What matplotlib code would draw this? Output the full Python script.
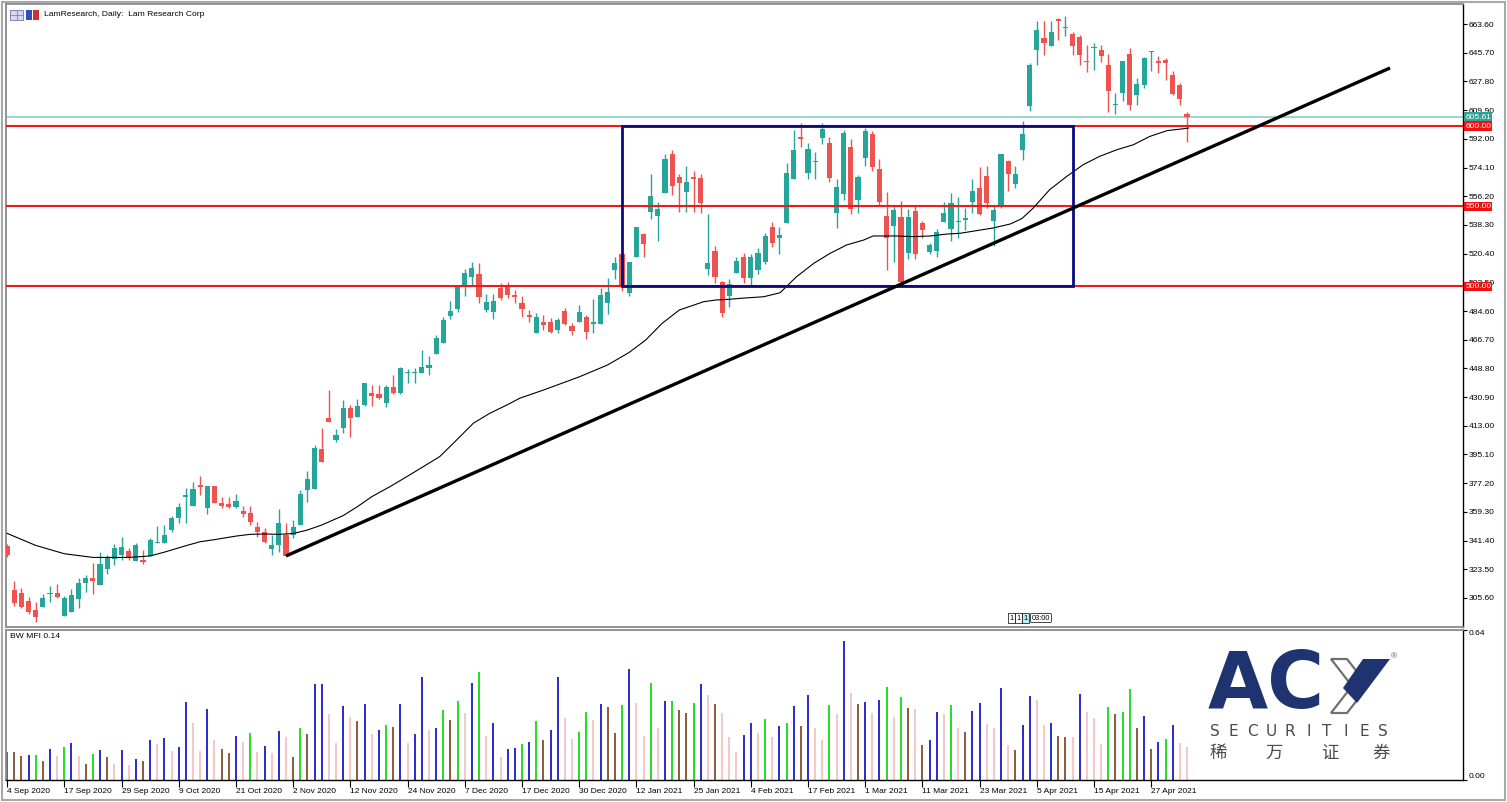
import matplotlib
matplotlib.use("Agg")
import matplotlib.pyplot as plt
import matplotlib.transforms as mtransforms
from matplotlib.patches import Rectangle, Polygon

plt.rcParams['font.family'] = ['Liberation Sans', 'DejaVu Sans']

# ---------------- data (daily LRCX, bar index 0 = 4 Sep 2020) ----------------
opens = [338.0, 310.6, 309.0, 304.0, 298.1, 299.8, 308.0, 309.0, 294.6, 297.1,
         304.8, 314.8, 317.9, 313.7, 323.5, 329.7, 332.4, 335.1, 328.9, 329.3,
         331.8, 339.7, 340.1, 348.0, 355.7, 368.8, 363.0, 375.5, 361.5, 375.5,
         364.6, 364.2, 362.6, 360.1, 358.4, 350.1, 347.0, 336.1, 338.6, 344.9,
         344.9, 351.1, 372.9, 373.3, 398.4, 417.6, 404.2, 411.8, 424.0, 418.7,
         426.0, 433.6, 432.9, 427.4, 437.4, 433.6, 445.8, 445.8, 446.2, 448.9,
         457.8, 464.9, 481.7, 485.6, 499.8, 506.0, 507.7, 485.2, 484.2, 498.8,
         500.8, 494.6, 489.8, 482.1, 470.7, 478.0, 478.0, 472.8, 484.8, 475.4,
         478.0, 480.7, 476.5, 476.5, 489.8, 510.1, 520.4, 495.6, 518.5, 532.4,
         546.5, 543.8, 558.4, 582.5, 568.0, 559.0, 568.0, 567.3, 510.6, 522.2,
         502.9, 493.8, 508.5, 518.5, 505.0, 510.2, 515.4, 537.2, 530.0, 539.7,
         566.7, 593.0, 570.5, 577.4, 592.4, 589.2, 545.5, 557.6, 586.7, 553.8,
         579.8, 595.0, 573.0, 543.9, 537.6, 543.4, 521.0, 547.2, 539.7, 521.6,
         522.2, 540.3, 535.6, 540.0, 541.6, 552.6, 561.3, 568.6, 540.9, 549.3,
         578.4, 563.8, 585.2, 612.2, 647.6, 654.9, 649.7, 666.9, 661.1, 657.4,
         655.3, 640.3, 648.6, 647.6, 638.2, 612.9, 620.6, 644.9, 619.1, 625.4,
         645.9, 640.7, 640.9, 632.0, 625.8, 607.5]
highs = [339.5, 316.2, 311.9, 306.4, 303.3, 307.9, 313.0, 314.4, 306.8, 311.2,
         317.9, 319.9, 327.3, 334.4, 332.7, 339.0, 343.5, 337.0, 340.0, 335.8,
         343.0, 350.5, 350.9, 357.0, 365.0, 373.9, 378.1, 381.7, 375.5, 375.5,
         368.6, 368.6, 370.4, 363.0, 363.0, 353.2, 349.1, 344.9, 361.1, 352.2,
         354.2, 373.1, 385.1, 401.0, 411.8, 435.3, 410.8, 428.8, 426.1, 429.7,
         439.5, 438.2, 438.2, 438.2, 444.7, 449.5, 448.4, 449.0, 460.0, 456.4,
         469.6, 481.1, 491.1, 499.8, 510.7, 515.4, 514.7, 495.5, 495.5, 501.9,
         502.9, 497.7, 494.0, 485.2, 483.6, 482.1, 480.0, 480.0, 486.2, 477.0,
         488.3, 482.1, 492.1, 498.8, 505.0, 518.5, 520.4, 515.4, 537.2, 533.5,
         570.2, 552.7, 582.6, 585.0, 570.2, 574.8, 571.8, 570.0, 545.1, 525.0,
         503.5, 504.6, 518.0, 520.6, 520.0, 523.7, 533.1, 540.4, 537.0, 576.8,
         597.5, 602.0, 589.2, 583.6, 601.7, 593.0, 566.9, 597.5, 592.0, 569.5,
         598.7, 597.0, 579.3, 559.0, 550.0, 553.4, 548.0, 551.0, 540.5, 527.0,
         536.0, 552.7, 558.4, 555.5, 548.8, 567.1, 574.2, 574.8, 550.9, 582.5,
         579.0, 574.8, 602.9, 639.3, 665.3, 665.7, 665.3, 667.3, 668.4, 658.6,
         657.0, 650.7, 651.8, 650.7, 644.9, 620.6, 640.3, 648.6, 629.9, 642.8,
         647.0, 643.4, 642.4, 634.5, 626.8, 608.7]
lows = [331.0, 300.6, 299.4, 295.6, 290.8, 299.8, 303.3, 305.4, 294.6, 297.1,
        299.6, 309.5, 308.3, 313.7, 320.7, 325.9, 329.0, 329.5, 328.9, 326.9,
        331.8, 339.7, 340.1, 346.5, 352.2, 352.2, 363.0, 369.8, 358.2, 364.6,
        362.0, 361.5, 361.5, 356.3, 351.1, 343.5, 339.7, 332.4, 334.3, 331.8,
        343.0, 351.1, 365.7, 373.3, 390.2, 415.6, 403.0, 408.7, 406.0, 418.7,
        425.5, 425.1, 429.5, 424.5, 432.9, 432.9, 439.9, 439.9, 446.2, 444.9,
        457.8, 464.9, 479.5, 484.2, 494.0, 501.0, 489.8, 484.2, 479.6, 491.6,
        493.0, 489.4, 481.0, 478.0, 470.7, 473.0, 471.0, 471.0, 476.0, 469.6,
        478.0, 467.0, 470.7, 476.5, 482.7, 504.4, 497.0, 494.0, 518.5, 518.3,
        541.8, 528.0, 558.4, 557.0, 546.5, 546.5, 546.5, 546.0, 507.0, 501.8,
        480.7, 487.0, 508.0, 501.9, 501.0, 507.5, 514.0, 524.6, 520.0, 539.7,
        566.7, 587.1, 567.0, 567.0, 589.0, 565.0, 536.2, 553.8, 545.0, 545.5,
        575.0, 572.0, 550.0, 510.2, 515.4, 500.2, 517.0, 517.0, 530.0, 520.0,
        518.0, 540.3, 528.0, 530.1, 535.3, 545.7, 544.7, 548.8, 524.9, 548.9,
        559.2, 561.3, 579.0, 609.5, 638.2, 644.1, 649.7, 653.8, 655.9, 644.5,
        637.8, 633.7, 635.1, 639.9, 608.7, 607.5, 615.8, 610.2, 612.9, 623.7,
        634.1, 633.0, 628.9, 619.1, 612.9, 590.0]
closes = [332.4, 302.3, 300.2, 297.1, 293.9, 305.4, 308.7, 306.2, 305.4, 307.5,
          315.2, 318.3, 316.4, 326.8, 330.3, 337.0, 337.2, 330.4, 338.6, 327.9,
          341.8, 340.8, 345.0, 355.3, 362.6, 369.8, 373.6, 375.1, 375.5, 364.6,
          363.0, 362.6, 366.3, 357.8, 353.2, 347.0, 340.3, 338.6, 352.6, 331.8,
          350.1, 370.4, 379.6, 399.4, 390.2, 415.6, 407.3, 424.0, 418.1, 425.6,
          439.5, 431.5, 430.1, 437.4, 433.3, 448.9, 446.2, 446.8, 449.9, 450.9,
          467.6, 479.0, 484.8, 499.8, 508.5, 511.2, 493.5, 490.4, 491.0, 492.6,
          494.6, 493.6, 485.7, 480.7, 481.1, 475.9, 471.7, 479.0, 476.5, 472.3,
          484.2, 471.7, 478.0, 494.6, 496.6, 514.7, 500.2, 515.4, 537.2, 526.4,
          556.3, 548.0, 579.2, 562.6, 564.6, 565.2, 567.2, 551.8, 514.7, 505.8,
          483.6, 501.4, 515.8, 505.0, 518.5, 521.0, 531.4, 527.2, 532.0, 570.9,
          585.0, 591.7, 585.4, 578.0, 597.9, 567.4, 562.1, 595.4, 548.0, 568.0,
          597.1, 574.2, 552.8, 530.0, 547.6, 502.9, 543.0, 520.2, 535.1, 525.8,
          534.1, 546.0, 552.2, 540.9, 542.6, 559.2, 545.1, 552.0, 547.8, 582.5,
          570.0, 570.0, 595.0, 638.2, 660.1, 651.8, 658.6, 665.7, 661.5, 649.7,
          644.1, 639.7, 649.5, 643.4, 621.6, 613.7, 640.3, 613.3, 626.2, 642.4,
          646.6, 639.3, 639.3, 619.9, 617.0, 605.61]

# moving average (bar index, value)
ma_bars = [0, 4, 8, 12, 17, 20, 22, 25, 27, 29, 32, 34, 36, 38, 40, 42, 44, 47,
           49, 51, 53.6, 55.9, 58.2, 60.5, 62.4, 65.2, 67.5, 69.9, 71.7, 75, 80,
           84, 87, 89.3, 91.6, 94, 97.4, 99.2, 101, 102.5, 105.8, 108.1, 110.4,
           112.8, 115.1, 117.4, 119.8, 121.1, 124.4, 126.7, 129.1, 131.4, 133.3,
           137.9, 140.3, 141.9, 143.5, 145.8, 148.2, 150.5, 152.8, 155.2, 157.5,
           159.8, 162.2, 164.5, 165.2]
ma_vals = [345.9, 338.4, 333.2, 330.9, 330.9, 331.8, 334.2, 338.2, 340.7, 342.0,
           344.2, 345.3, 345.5, 345.3, 345.8, 348.0, 351.1, 357.0, 362.6, 368.8,
           375.2, 381.3, 387.5, 393.8, 402.1, 414.6, 420.8, 426.0, 430.2, 435.3,
           443.5, 451.0, 458.8, 466.5, 476.9, 485.2, 490.4, 491.5, 491.9, 492.5,
           493.5, 496.0, 506.0, 514.3, 520.6, 525.8, 528.9, 531.4, 531.4, 531.0,
           531.4, 532.6, 533.1, 536.4, 538.9, 542.2, 548.8, 560.3, 568.6, 575.9,
           581.1, 585.2, 588.3, 593.5, 597.1, 598.3, 598.7]

# BW MFI histogram: values and colour codes (G green, S brown, B blue, P pink)
mfi = [0.120, 0.119, 0.102, 0.105, 0.105, 0.082, 0.131, 0.102, 0.139, 0.158,
       0.102, 0.068, 0.111, 0.128, 0.100, 0.068, 0.128, 0.064, 0.091, 0.080,
       0.171, 0.154, 0.179, 0.125, 0.139, 0.334, 0.245, 0.125, 0.304, 0.171,
       0.132, 0.114, 0.189, 0.162, 0.199, 0.119, 0.144, 0.114, 0.209, 0.185,
       0.100, 0.222, 0.196, 0.408, 0.411, 0.282, 0.159, 0.316, 0.270, 0.252,
       0.323, 0.196, 0.213, 0.233, 0.228, 0.323, 0.159, 0.196, 0.441, 0.213,
       0.223, 0.299, 0.256, 0.336, 0.287, 0.415, 0.461, 0.188, 0.242, 0.100,
       0.131, 0.137, 0.154, 0.162, 0.252, 0.171, 0.213, 0.438, 0.266, 0.175,
       0.205, 0.292, 0.256, 0.323, 0.311, 0.201, 0.320, 0.472, 0.330, 0.188,
       0.412, 0.220, 0.338, 0.338, 0.297, 0.286, 0.327, 0.411, 0.364, 0.324,
       0.287, 0.182, 0.121, 0.193, 0.243, 0.202, 0.259, 0.185, 0.230, 0.245,
       0.317, 0.232, 0.363, 0.223, 0.171, 0.320, 0.280, 0.592, 0.370, 0.324,
       0.331, 0.284, 0.340, 0.395, 0.270, 0.353, 0.307, 0.301, 0.148, 0.171,
       0.290, 0.282, 0.320, 0.222, 0.206, 0.294, 0.327, 0.239, 0.220, 0.391,
       0.148, 0.128, 0.235, 0.358, 0.341, 0.233, 0.242, 0.188, 0.182, 0.182,
       0.365, 0.290, 0.264, 0.154, 0.310, 0.280, 0.290, 0.390, 0.220, 0.273,
       0.131, 0.162, 0.175, 0.235, 0.156, 0.141]
mfi_codes = ("SSSBGSBPGBPSGBSPBPBSBPBPBBPPBPSSBPGPBPBPSGSBBPPBPSBPBGSBPBBPBGSGPBGPB"
             "PBBGBGSBBPPGGPBSSGBPPGPBGSSGBPSPPPBBPGPBGBSBPPGPBPSBPBGPGSPSBBPGPSBBPP"
             "BPSBBPPBSSPBPPPGSGGSBSBGBPP")

date_labels = ["4 Sep 2020", "17 Sep 2020", "29 Sep 2020", "9 Oct 2020", "21 Oct 2020",
               "2 Nov 2020", "12 Nov 2020", "24 Nov 2020", "7 Dec 2020", "17 Dec 2020",
               "30 Dec 2020", "12 Jan 2021", "25 Jan 2021", "4 Feb 2021", "17 Feb 2021",
               "1 Mar 2021", "11 Mar 2021", "23 Mar 2021", "5 Apr 2021", "15 Apr 2021",
               "27 Apr 2021"]
date_bars = [0, 8, 16, 24, 32, 40, 48, 56, 64, 72, 80, 88, 96, 104, 112, 120, 128,
             136, 144, 152, 160]
price_ticks = [663.6, 645.7, 627.8, 609.9, 592.0, 574.1, 556.2, 538.3, 520.4, 502.5,
               484.6, 466.7, 448.8, 430.9, 413.0, 395.1, 377.2, 359.3, 341.4, 323.5, 305.6]
levels = [600.0, 550.0, 500.0]
last_price = 605.61
box_bars = [86.0, 149.1]
box_prices = [500.0, 600.0]
trend_bars = [39, 193.4]
trend_prices = [331.8, 636.2]

# ---------------- styling ----------------
GREEN = '#26A69A'
RED = '#EF5350'
MFI_COL = {'G': '#22DD22', 'S': '#8B5A3C', 'B': '#2A2AD0', 'P': '#F6C6C8'}

W, H = 1507, 802
fig = plt.figure(figsize=(W / 100, H / 100), dpi=100)
fig.patch.set_facecolor('white')


def rect(l, t, r, b):
    return [l / W, 1 - b / H, (r - l) / W, (b - t) / H]


ax = fig.add_axes(rect(6, 4, 1463, 627))
ax2 = fig.add_axes(rect(6, 630, 1463, 780))
for a in (ax, ax2):
    a.set_xlim(-0.154, 203.6)
ax.set_ylim(287.5, 676.1)
ax2.set_ylim(0, 0.64)

n = len(closes)
idx = list(range(n))
cols = [GREEN if c >= o else RED for o, c in zip(opens, closes)]
ax.vlines(idx, lows, highs, colors=cols, lw=1.0, zorder=2)
bottoms = [min(o, c) for o, c in zip(opens, closes)]
heights = [max(abs(c - o), 0.7) for o, c in zip(opens, closes)]
ax.bar(idx, heights, bottom=bottoms, width=0.72, color=cols, linewidth=0, zorder=3)

ax.axhline(last_price, color='#86D0C6', lw=1.2, zorder=1)
for lv in levels:
    ax.axhline(lv, color='#F01818', lw=1.5, zorder=4)
ax.plot(ma_bars, ma_vals, color='black', lw=0.8, zorder=4)
ax.add_patch(Rectangle((box_bars[0], box_prices[0]), box_bars[1] - box_bars[0],
                       box_prices[1] - box_prices[0], fill=False,
                       edgecolor='#0A0A80', lw=2.0, zorder=5))
ax.plot(trend_bars, trend_prices, color='black', lw=2.4, zorder=6,
        solid_capstyle='butt')

# right price axis
ax.yaxis.tick_right()
ax.set_yticks(price_ticks)
ax.set_yticklabels([f"{v:.2f}" for v in price_ticks])
ax.tick_params(axis='y', direction='out', length=3, width=0.8, pad=1.2,
               labelsize=6.1, colors='black')
ax.set_xticks([])
trans = mtransforms.blended_transform_factory(ax.transAxes, ax.transData)
ax.text(1.0015, last_price, f"{last_price:.2f}", transform=trans, ha='left',
        va='center', fontsize=6.1, color='white', zorder=20, clip_on=False,
        bbox=dict(boxstyle='square,pad=0.12', fc='#2FA393', ec='none'))
for lv in levels:
    ax.text(1.0015, lv, f"{lv:.2f}", transform=trans, ha='left', va='center',
            fontsize=6.1, color='white', zorder=20, clip_on=False,
            bbox=dict(boxstyle='square,pad=0.12', fc='#F41010', ec='none'))

for s in ('left', 'top', 'bottom'):
    ax.spines[s].set_color('#8A8A8A')
    ax.spines[s].set_linewidth(1.3)
ax.spines['right'].set_color('black')
ax.spines['right'].set_linewidth(1.0)

# MFI panel
ax2.vlines(idx, 0, mfi, colors=[MFI_COL[c] for c in mfi_codes], lw=1.4)
ax2.yaxis.tick_right()
ax2.set_yticks([0, 0.64])
ax2.set_yticklabels(["0.00", "0.64"])
ax2.tick_params(axis='y', direction='out', length=3, width=0.8, pad=1.2, labelsize=6.1)
ylabs = ax2.get_yticklabels()
ylabs[0].set_va('bottom')
ylabs[1].set_va('top')
ax2.set_xticks(date_bars)
ax2.set_xticklabels(date_labels, ha='left')
ax2.tick_params(axis='x', direction='out', length=5, width=0.8, pad=0.6, labelsize=6.0)
for s in ('left', 'top'):
    ax2.spines[s].set_color('#8A8A8A')
    ax2.spines[s].set_linewidth(1.3)
for s in ('right', 'bottom'):
    ax2.spines[s].set_color('black')
    ax2.spines[s].set_linewidth(1.0)

# ---------------- decorations in pixel space ----------------
ov = fig.add_axes([0, 0, 1, 1], zorder=10)
ov.set_xlim(0, W)
ov.set_ylim(H, 0)
ov.axis('off')
ov.patch.set_alpha(0)

ov.add_patch(Rectangle((1.5, 1.5), W - 4, H - 4, fill=False, ec='#A8A8A8', lw=1.5))
ov.add_patch(Rectangle((10, 10), 13, 10, fc='#D8D8F4', ec='#7070B8', lw=0.6))
ov.plot([16.5, 16.5], [10, 20], color='#7070B8', lw=0.5)
ov.plot([10, 23], [15, 15], color='#7070B8', lw=0.5)
ov.add_patch(Rectangle((26, 10), 6, 10, fc='#3050C0', ec='none'))
ov.add_patch(Rectangle((33, 10), 6, 10, fc='#D03030', ec='none'))
ov.text(44, 15, "LamResearch, Daily:  Lam Research Corp", fontsize=6.1,
        va='center', ha='left', color='black')
ov.text(10, 636.5, "BW MFI 0.14", fontsize=6.1, va='center', ha='left', color='black')

# time-left marker
for xx, fc in ((1011.5, 'white'), (1018.5, 'white'), (1025.5, '#BFEFF5')):
    ov.text(xx, 618, "1", fontsize=5.3, ha='center', va='center',
            bbox=dict(boxstyle='square,pad=0.15', fc=fc, ec='black', lw=0.5))
ov.text(1041, 618, "03:00", fontsize=5.3, ha='center', va='center',
        bbox=dict(boxstyle='round,pad=0.15', fc='white', ec='black', lw=0.5))

# ACY logo
NAVY = '#1E3370'
ov.text(1266, 686, "AC", fontsize=56, fontweight='bold', color=NAVY,
        ha='center', va='center', family='DejaVu Sans')
ov.add_patch(Polygon([(1331, 659), (1347, 659), (1368, 686), (1347, 713),
                      (1331, 713), (1352, 686)], closed=True, fill=False,
                     ec='#707070', lw=1.6))
ov.add_patch(Polygon([(1363, 659), (1390, 659), (1357, 703), (1343, 688)],
                     closed=True, fc=NAVY, ec='none'))
ov.text(1394, 657, "®", fontsize=6, color='#555555', ha='center', va='center')
sec = "SECURITIES"
for k, ch in enumerate(sec):
    ov.text(1215 + k * 18.67, 732, ch, fontsize=11, color='#4A4A4A',
            ha='center', va='center', family='DejaVu Sans')
for xx, ch in zip([1218, 1274, 1330, 1381], "稀万证券"):
    ov.text(xx, 753, ch, fontsize=12.5, color='#4A4A4A', ha='center', va='center',
            family=['Noto Sans CJK SC', 'DejaVu Sans'])

fig.savefig("out.png", dpi=100, facecolor='white')
